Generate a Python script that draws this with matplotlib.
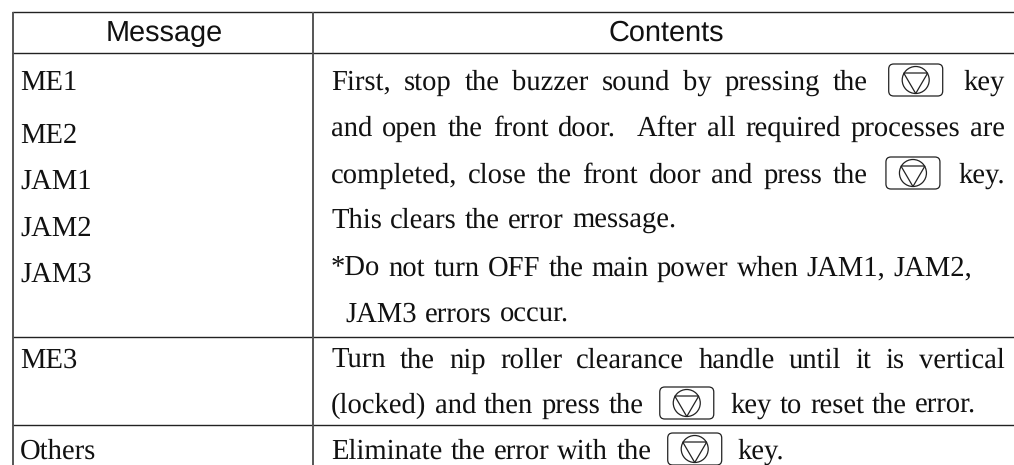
import matplotlib
matplotlib.use('Agg')
import matplotlib.pyplot as plt
from matplotlib.patches import FancyBboxPatch, Circle, Polygon

plt.rcParams['text.hinting'] = 'no_hinting'

W, H = 1014, 465

# table text, y is the text baseline in pixels
headers = ['Message', 'Contents']
messages = ['ME1', 'ME2', 'JAM1', 'JAM2', 'JAM3', 'ME3', 'Others']
message_y = [89, 142, 188, 235, 281, 367, 458]

KEY = '@'  # stands for the stop key symbol
LEFT, INDENT, RIGHT = 331, 345, 1005
contents = [
    ('First, stop the buzzer sound by pressing the @ key', 89, LEFT, RIGHT),
    ('and open the front door.  After all required processes are', 135, LEFT, RIGHT),
    ('completed, close the front door and press the @ key.', 182, LEFT, RIGHT),
    ('This clears the error message.', 227, LEFT, None),
    ('*Do not turn OFF the main power when JAM1, JAM2,', 275, LEFT, None),
    ('JAM3 errors occur.', 321, INDENT, None),
    ('Turn the nip roller clearance handle until it is vertical', 367, LEFT, RIGHT),
    ('(locked) and then press the @ key to reset the error.', 412, LEFT, None),
    ('Eliminate the error with the @ key.', 458, LEFT, None),
]

h_lines = [12, 52.7, 337, 425]
v_lines = [12.7, 313]
FS = 20.6
KEY_W, KEY_H, KEY_PAD = 54, 32, 8

fig = plt.figure(figsize=(W / 100, H / 100), dpi=100)
ax = fig.add_axes([0, 0, 1, 1])
ax.set_xlim(0, W)
ax.set_ylim(H, 0)
ax.axis('off')

for y in h_lines:
    ax.plot([12, W], [y, y], color='#222222', lw=1.0, solid_capstyle='butt')
for x in v_lines:
    ax.plot([x, x], [12, H], color='#555555', lw=1.4, solid_capstyle='butt')

sans = dict(family='Liberation Sans', fontsize=20.8, ha='center', va='center', color='#111111')
ax.text(164, 33, headers[0], **sans)
ax.text(666, 33, headers[1], **sans)

serif = dict(family='Liberation Serif', fontsize=FS, color='#111111', va='baseline')
for name, y in zip(messages, message_y):
    ax.text(20, y + 0.5, name, **serif)


def draw_key(x, y):
    ax.add_patch(FancyBboxPatch((x + 5, y - KEY_H / 2 + 5), KEY_W - 10, KEY_H - 10,
                                boxstyle='round,pad=5,rounding_size=5', fc='white', ec='#222222', lw=0.9))
    cx = x + KEY_W / 2
    ax.add_patch(Circle((cx, y), 13.5, fc='none', ec='#222222', lw=0.9))
    ax.add_patch(Polygon([(cx - 12, y - 7), (cx + 12, y - 7), (cx, y + 13.5)], closed=True,
                         fc='none', ec='#222222', lw=0.9))


fig.canvas.draw()
rend = fig.canvas.get_renderer()


def word_width(word):
    if word == KEY:
        return KEY_W + 2 * KEY_PAD
    if not word:
        return 0
    t = ax.text(0, 0, word, **serif)
    w = t.get_window_extent(rend).width
    t.remove()
    return w


for line, y, x0, x1 in contents:
    words = line.split(' ')
    widths = [word_width(w) for w in words]
    gap = 8.2 if x1 is None else (x1 - x0 - sum(widths)) / (len(words) - 1)
    x = x0
    for word, width in zip(words, widths):
        if word == KEY:
            draw_key(x + KEY_PAD, y - 9)
        elif word:
            ax.text(x, y + 0.5, word, **serif)
        x += width + gap

fig.savefig('out.png', dpi=100)
